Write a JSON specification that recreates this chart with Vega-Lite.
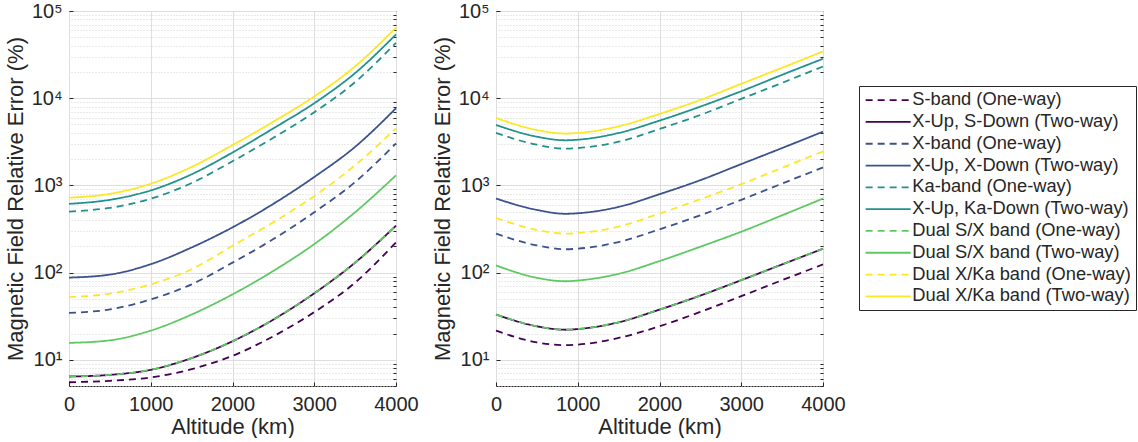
{
  "$schema": "https://vega.github.io/schema/vega-lite/v6.json",
  "padding": {"left": 3, "top": 0, "right": 0, "bottom": 0},
  "background": "white",
  "config": {
    "font": "Liberation Sans",
    "view": {"stroke": "#262626", "strokeWidth": 1},
    "axis": {"labelColor": "#262626", "titleColor": "#262626", "titleFontWeight": "normal", "tickColor": "#262626", "domain": false, "labelFont": "Liberation Sans", "titleFont": "Liberation Sans"},
    "legend": {"labelFont": "Liberation Sans"}
  },
  "datasets": {
    "left": [
      {"series": "S-band (One-way)", "alt": 0, "err": 5.52}, {"series": "S-band (One-way)", "alt": 500, "err": 5.73}, {"series": "S-band (One-way)", "alt": 1000, "err": 6.26}, {"series": "S-band (One-way)", "alt": 1500, "err": 7.8}, {"series": "S-band (One-way)", "alt": 2000, "err": 11.1}, {"series": "S-band (One-way)", "alt": 2500, "err": 18.6}, {"series": "S-band (One-way)", "alt": 3000, "err": 35.2}, {"series": "S-band (One-way)", "alt": 3500, "err": 76.7}, {"series": "S-band (One-way)", "alt": 4000, "err": 222},
      {"series": "X-Up, S-Down (Two-way)", "alt": 0, "err": 6.42}, {"series": "X-Up, S-Down (Two-way)", "alt": 500, "err": 6.71}, {"series": "X-Up, S-Down (Two-way)", "alt": 1000, "err": 7.67}, {"series": "X-Up, S-Down (Two-way)", "alt": 1500, "err": 10.45}, {"series": "X-Up, S-Down (Two-way)", "alt": 2000, "err": 16.3}, {"series": "X-Up, S-Down (Two-way)", "alt": 2500, "err": 28.9}, {"series": "X-Up, S-Down (Two-way)", "alt": 3000, "err": 57.8}, {"series": "X-Up, S-Down (Two-way)", "alt": 3500, "err": 130}, {"series": "X-Up, S-Down (Two-way)", "alt": 4000, "err": 345},
      {"series": "X-band (One-way)", "alt": 0, "err": 34.5}, {"series": "X-band (One-way)", "alt": 500, "err": 37.8}, {"series": "X-band (One-way)", "alt": 1000, "err": 49.2}, {"series": "X-band (One-way)", "alt": 1500, "err": 73.3}, {"series": "X-band (One-way)", "alt": 2000, "err": 130}, {"series": "X-band (One-way)", "alt": 2500, "err": 242}, {"series": "X-band (One-way)", "alt": 3000, "err": 492}, {"series": "X-band (One-way)", "alt": 3500, "err": 1092}, {"series": "X-band (One-way)", "alt": 4000, "err": 3027},
      {"series": "X-Up, X-Down (Two-way)", "alt": 0, "err": 87.5}, {"series": "X-Up, X-Down (Two-way)", "alt": 500, "err": 94.8}, {"series": "X-Up, X-Down (Two-way)", "alt": 1000, "err": 124.8}, {"series": "X-Up, X-Down (Two-way)", "alt": 1500, "err": 194}, {"series": "X-Up, X-Down (Two-way)", "alt": 2000, "err": 330}, {"series": "X-Up, X-Down (Two-way)", "alt": 2500, "err": 614}, {"series": "X-Up, X-Down (Two-way)", "alt": 3000, "err": 1248}, {"series": "X-Up, X-Down (Two-way)", "alt": 3500, "err": 2768}, {"series": "X-Up, X-Down (Two-way)", "alt": 4000, "err": 7670},
      {"series": "Ka-band (One-way)", "alt": 0, "err": 501}, {"series": "Ka-band (One-way)", "alt": 500, "err": 552}, {"series": "Ka-band (One-way)", "alt": 1000, "err": 702}, {"series": "Ka-band (One-way)", "alt": 1500, "err": 1064}, {"series": "Ka-band (One-way)", "alt": 2000, "err": 1892}, {"series": "Ka-band (One-way)", "alt": 2500, "err": 3516}, {"series": "Ka-band (One-way)", "alt": 3000, "err": 6890}, {"series": "Ka-band (One-way)", "alt": 3500, "err": 15300}, {"series": "Ka-band (One-way)", "alt": 4000, "err": 43150},
      {"series": "X-Up, Ka-Down (Two-way)", "alt": 0, "err": 614}, {"series": "X-Up, Ka-Down (Two-way)", "alt": 500, "err": 683}, {"series": "X-Up, Ka-Down (Two-way)", "alt": 1000, "err": 875}, {"series": "X-Up, Ka-Down (Two-way)", "alt": 1500, "err": 1340}, {"series": "X-Up, Ka-Down (Two-way)", "alt": 2000, "err": 2382}, {"series": "X-Up, Ka-Down (Two-way)", "alt": 2500, "err": 4508}, {"series": "X-Up, Ka-Down (Two-way)", "alt": 3000, "err": 8753}, {"series": "X-Up, Ka-Down (Two-way)", "alt": 3500, "err": 19420}, {"series": "X-Up, Ka-Down (Two-way)", "alt": 4000, "err": 53800},
      {"series": "Dual S/X band (One-way)", "alt": 0, "err": 6.42}, {"series": "Dual S/X band (One-way)", "alt": 500, "err": 6.71}, {"series": "Dual S/X band (One-way)", "alt": 1000, "err": 7.67}, {"series": "Dual S/X band (One-way)", "alt": 1500, "err": 10.45}, {"series": "Dual S/X band (One-way)", "alt": 2000, "err": 16.3}, {"series": "Dual S/X band (One-way)", "alt": 2500, "err": 28.9}, {"series": "Dual S/X band (One-way)", "alt": 3000, "err": 57.8}, {"series": "Dual S/X band (One-way)", "alt": 3500, "err": 130}, {"series": "Dual S/X band (One-way)", "alt": 4000, "err": 345},
      {"series": "Dual S/X band (Two-way)", "alt": 0, "err": 15.6}, {"series": "Dual S/X band (Two-way)", "alt": 500, "err": 16.7}, {"series": "Dual S/X band (Two-way)", "alt": 1000, "err": 21.6}, {"series": "Dual S/X band (Two-way)", "alt": 1500, "err": 33.0}, {"series": "Dual S/X band (Two-way)", "alt": 2000, "err": 56.2}, {"series": "Dual S/X band (Two-way)", "alt": 2500, "err": 104.5}, {"series": "Dual S/X band (Two-way)", "alt": 3000, "err": 212}, {"series": "Dual S/X band (Two-way)", "alt": 3500, "err": 492}, {"series": "Dual S/X band (Two-way)", "alt": 4000, "err": 1304},
      {"series": "Dual X/Ka band (One-way)", "alt": 0, "err": 52.4}, {"series": "Dual X/Ka band (One-way)", "alt": 500, "err": 57.2}, {"series": "Dual X/Ka band (One-way)", "alt": 1000, "err": 73.3}, {"series": "Dual X/Ka band (One-way)", "alt": 1500, "err": 109}, {"series": "Dual X/Ka band (One-way)", "alt": 2000, "err": 203}, {"series": "Dual X/Ka band (One-way)", "alt": 2500, "err": 378}, {"series": "Dual X/Ka band (One-way)", "alt": 3000, "err": 753}, {"series": "Dual X/Ka band (One-way)", "alt": 3500, "err": 1702}, {"series": "Dual X/Ka band (One-way)", "alt": 4000, "err": 4508},
      {"series": "Dual X/Ka band (Two-way)", "alt": 0, "err": 721}, {"series": "Dual X/Ka band (Two-way)", "alt": 500, "err": 801}, {"series": "Dual X/Ka band (Two-way)", "alt": 1000, "err": 1045}, {"series": "Dual X/Ka band (Two-way)", "alt": 1500, "err": 1628}, {"series": "Dual X/Ka band (Two-way)", "alt": 2000, "err": 2895}, {"series": "Dual X/Ka band (Two-way)", "alt": 2500, "err": 5377}, {"series": "Dual X/Ka band (Two-way)", "alt": 3000, "err": 10450}, {"series": "Dual X/Ka band (Two-way)", "alt": 3500, "err": 23190}, {"series": "Dual X/Ka band (Two-way)", "alt": 4000, "err": 64240}
    ],
    "right": [
      {"series": "S-band (One-way)", "alt": 0, "err": 21.6}, {"series": "S-band (One-way)", "alt": 500, "err": 15.8}, {"series": "S-band (One-way)", "alt": 850, "err": 14.7}, {"series": "S-band (One-way)", "alt": 1000, "err": 14.9}, {"series": "S-band (One-way)", "alt": 1500, "err": 17.8}, {"series": "S-band (One-way)", "alt": 2000, "err": 24.2}, {"series": "S-band (One-way)", "alt": 2500, "err": 35.4}, {"series": "S-band (One-way)", "alt": 3000, "err": 53.6}, {"series": "S-band (One-way)", "alt": 3500, "err": 81.8}, {"series": "S-band (One-way)", "alt": 4000, "err": 124},
      {"series": "X-Up, S-Down (Two-way)", "alt": 0, "err": 33.0}, {"series": "X-Up, S-Down (Two-way)", "alt": 500, "err": 24.2}, {"series": "X-Up, S-Down (Two-way)", "alt": 850, "err": 22.1}, {"series": "X-Up, S-Down (Two-way)", "alt": 1000, "err": 22.5}, {"series": "X-Up, S-Down (Two-way)", "alt": 1500, "err": 26.9}, {"series": "X-Up, S-Down (Two-way)", "alt": 2000, "err": 37.6}, {"series": "X-Up, S-Down (Two-way)", "alt": 2500, "err": 54.5}, {"series": "X-Up, S-Down (Two-way)", "alt": 3000, "err": 81.8}, {"series": "X-Up, S-Down (Two-way)", "alt": 3500, "err": 124}, {"series": "X-Up, S-Down (Two-way)", "alt": 4000, "err": 187.6},
      {"series": "X-band (One-way)", "alt": 0, "err": 279}, {"series": "X-band (One-way)", "alt": 500, "err": 205}, {"series": "X-band (One-way)", "alt": 850, "err": 185}, {"series": "X-band (One-way)", "alt": 1000, "err": 188}, {"series": "X-band (One-way)", "alt": 1500, "err": 224}, {"series": "X-band (One-way)", "alt": 2000, "err": 313}, {"series": "X-band (One-way)", "alt": 2500, "err": 454}, {"series": "X-band (One-way)", "alt": 3000, "err": 682}, {"series": "X-band (One-way)", "alt": 3500, "err": 1050}, {"series": "X-band (One-way)", "alt": 4000, "err": 1606},
      {"series": "X-Up, X-Down (Two-way)", "alt": 0, "err": 706}, {"series": "X-Up, X-Down (Two-way)", "alt": 500, "err": 523}, {"series": "X-Up, X-Down (Two-way)", "alt": 850, "err": 472}, {"series": "X-Up, X-Down (Two-way)", "alt": 1000, "err": 479}, {"series": "X-Up, X-Down (Two-way)", "alt": 1500, "err": 566}, {"series": "X-Up, X-Down (Two-way)", "alt": 2000, "err": 792}, {"series": "X-Up, X-Down (Two-way)", "alt": 2500, "err": 1148}, {"series": "X-Up, X-Down (Two-way)", "alt": 3000, "err": 1754}, {"series": "X-Up, X-Down (Two-way)", "alt": 3500, "err": 2680}, {"series": "X-Up, X-Down (Two-way)", "alt": 4000, "err": 4130},
      {"series": "Ka-band (One-way)", "alt": 0, "err": 3990}, {"series": "Ka-band (One-way)", "alt": 500, "err": 2926}, {"series": "Ka-band (One-way)", "alt": 850, "err": 2640}, {"series": "Ka-band (One-way)", "alt": 1000, "err": 2680}, {"series": "Ka-band (One-way)", "alt": 1500, "err": 3170}, {"series": "Ka-band (One-way)", "alt": 2000, "err": 4435}, {"series": "Ka-band (One-way)", "alt": 2500, "err": 6427}, {"series": "Ka-band (One-way)", "alt": 3000, "err": 9817}, {"series": "Ka-band (One-way)", "alt": 3500, "err": 15000}, {"series": "Ka-band (One-way)", "alt": 4000, "err": 23120},
      {"series": "X-Up, Ka-Down (Two-way)", "alt": 0, "err": 4930}, {"series": "X-Up, Ka-Down (Two-way)", "alt": 500, "err": 3617}, {"series": "X-Up, Ka-Down (Two-way)", "alt": 850, "err": 3290}, {"series": "X-Up, Ka-Down (Two-way)", "alt": 1000, "err": 3342}, {"series": "X-Up, Ka-Down (Two-way)", "alt": 1500, "err": 3990}, {"series": "X-Up, Ka-Down (Two-way)", "alt": 2000, "err": 5530}, {"series": "X-Up, Ka-Down (Two-way)", "alt": 2500, "err": 8010}, {"series": "X-Up, Ka-Down (Two-way)", "alt": 3000, "err": 12020}, {"series": "X-Up, Ka-Down (Two-way)", "alt": 3500, "err": 18540}, {"series": "X-Up, Ka-Down (Two-way)", "alt": 4000, "err": 28330},
      {"series": "Dual S/X band (One-way)", "alt": 0, "err": 33.0}, {"series": "Dual S/X band (One-way)", "alt": 500, "err": 24.2}, {"series": "Dual S/X band (One-way)", "alt": 850, "err": 22.1}, {"series": "Dual S/X band (One-way)", "alt": 1000, "err": 22.5}, {"series": "Dual S/X band (One-way)", "alt": 1500, "err": 26.9}, {"series": "Dual S/X band (One-way)", "alt": 2000, "err": 37.6}, {"series": "Dual S/X band (One-way)", "alt": 2500, "err": 54.5}, {"series": "Dual S/X band (One-way)", "alt": 3000, "err": 81.8}, {"series": "Dual S/X band (One-way)", "alt": 3500, "err": 124}, {"series": "Dual S/X band (One-way)", "alt": 4000, "err": 187.6},
      {"series": "Dual S/X band (Two-way)", "alt": 0, "err": 120.7}, {"series": "Dual S/X band (Two-way)", "alt": 500, "err": 87.1}, {"series": "Dual S/X band (Two-way)", "alt": 850, "err": 79.5}, {"series": "Dual S/X band (Two-way)", "alt": 1000, "err": 81.1}, {"series": "Dual S/X band (Two-way)", "alt": 1500, "err": 96.8}, {"series": "Dual S/X band (Two-way)", "alt": 2000, "err": 135.5}, {"series": "Dual S/X band (Two-way)", "alt": 2500, "err": 198}, {"series": "Dual S/X band (Two-way)", "alt": 3000, "err": 294}, {"series": "Dual S/X band (Two-way)", "alt": 3500, "err": 454}, {"series": "Dual S/X band (Two-way)", "alt": 4000, "err": 706},
      {"series": "Dual X/Ka band (One-way)", "alt": 0, "err": 423}, {"series": "Dual X/Ka band (One-way)", "alt": 500, "err": 308}, {"series": "Dual X/Ka band (One-way)", "alt": 850, "err": 280}, {"series": "Dual X/Ka band (One-way)", "alt": 1000, "err": 284}, {"series": "Dual X/Ka band (One-way)", "alt": 1500, "err": 336}, {"series": "Dual X/Ka band (One-way)", "alt": 2000, "err": 475}, {"series": "Dual X/Ka band (One-way)", "alt": 2500, "err": 694}, {"series": "Dual X/Ka band (One-way)", "alt": 3000, "err": 1032}, {"series": "Dual X/Ka band (One-way)", "alt": 3500, "err": 1592}, {"series": "Dual X/Ka band (One-way)", "alt": 4000, "err": 2454},
      {"series": "Dual X/Ka band (Two-way)", "alt": 0, "err": 5930}, {"series": "Dual X/Ka band (Two-way)", "alt": 500, "err": 4316}, {"series": "Dual X/Ka band (Two-way)", "alt": 850, "err": 3930}, {"series": "Dual X/Ka band (Two-way)", "alt": 1000, "err": 3990}, {"series": "Dual X/Ka band (Two-way)", "alt": 1500, "err": 4756}, {"series": "Dual X/Ka band (Two-way)", "alt": 2000, "err": 6596}, {"series": "Dual X/Ka band (Two-way)", "alt": 2500, "err": 9550}, {"series": "Dual X/Ka band (Two-way)", "alt": 3000, "err": 14620}, {"series": "Dual X/Ka band (Two-way)", "alt": 3500, "err": 22330}, {"series": "Dual X/Ka band (Two-way)", "alt": 4000, "err": 34420}
    ]
  },
  "spacing": 100,
  "bounds": "flush",
  "resolve": {"scale": {"color": "independent", "strokeDash": "independent", "x": "independent", "y": "independent"}},
  "hconcat": [
    {
      "width": 327, "height": 375,
      "data": {"name": "left"},
      "resolve": {"axis": {"y": "independent"}},
      "layer": [
        {
          "mark": {"type": "point", "opacity": 0},
          "encoding": {
            "y": {"field": "err", "type": "quantitative", "scale": {"type": "log", "domain": [5, 100000]},
              "axis": {"orient": "right", "values": [5,6,7,8,9,20,30,40,50,60,70,80,90,200,300,400,500,600,700,800,900,2000,3000,4000,5000,6000,7000,8000,9000,20000,30000,40000,50000,60000,70000,80000,90000], "labels": false, "ticks": true, "tickSize": -3, "grid": true, "gridDash": [1, 2], "gridColor": "#d4d4d4", "title": null}}
          }
        },
        {
          "mark": {"type": "line", "strokeWidth": 1.8, "interpolate": "monotone"},
          "encoding": {
            "x": {"field": "alt", "type": "quantitative", "scale": {"domain": [0, 4000]},
              "axis": {"values": [0, 1000, 2000, 3000, 4000], "format": "d", "title": "Altitude (km)", "grid": true, "gridColor": "#dedede", "labelFontSize": 20, "titleFontSize": 22, "tickSize": -4, "labelPadding": 12, "titlePadding": 2, "labelFlush": false}},
            "y": {"field": "err", "type": "quantitative", "scale": {"type": "log", "domain": [5, 100000]},
              "axis": {"values": [10, 100, 1000, 10000, 100000], "labelExpr": "datum.value == 10 ? '10¹' : datum.value == 100 ? '10²' : datum.value == 1000 ? '10³' : datum.value == 10000 ? '10⁴' : '10⁵'", "title": "Magnetic Field Relative Error (%)", "grid": true, "gridColor": "#dedede", "labelFontSize": 20, "titleFontSize": 22, "tickSize": -4, "labelPadding": 11, "titlePadding": 4}},
            "color": {"field": "series", "type": "nominal",
              "scale": {"domain": ["S-band (One-way)", "X-Up, S-Down (Two-way)", "X-band (One-way)", "X-Up, X-Down (Two-way)", "Ka-band (One-way)", "X-Up, Ka-Down (Two-way)", "Dual S/X band (One-way)", "Dual S/X band (Two-way)", "Dual X/Ka band (One-way)", "Dual X/Ka band (Two-way)"],
                "range": ["#440154", "#440154", "#3b528b", "#3b528b", "#21918c", "#21918c", "#5ec962", "#5ec962", "#fde725", "#fde725"]},
              "legend": null},
            "strokeDash": {"field": "series", "type": "nominal",
              "scale": {"domain": ["S-band (One-way)", "X-Up, S-Down (Two-way)", "X-band (One-way)", "X-Up, X-Down (Two-way)", "Ka-band (One-way)", "X-Up, Ka-Down (Two-way)", "Dual S/X band (One-way)", "Dual S/X band (Two-way)", "Dual X/Ka band (One-way)", "Dual X/Ka band (Two-way)"],
                "range": [[7, 5], [1, 0], [7, 5], [1, 0], [7, 5], [1, 0], [7, 5], [1, 0], [7, 5], [1, 0]]},
              "legend": null}
          }
        }
      ]
    },
    {
      "width": 327, "height": 375,
      "data": {"name": "right"},
      "resolve": {"axis": {"y": "independent"}},
      "layer": [
        {
          "mark": {"type": "point", "opacity": 0},
          "encoding": {
            "y": {"field": "err", "type": "quantitative", "scale": {"type": "log", "domain": [5, 100000]},
              "axis": {"orient": "right", "values": [5,6,7,8,9,20,30,40,50,60,70,80,90,200,300,400,500,600,700,800,900,2000,3000,4000,5000,6000,7000,8000,9000,20000,30000,40000,50000,60000,70000,80000,90000], "labels": false, "ticks": true, "tickSize": -3, "grid": true, "gridDash": [1, 2], "gridColor": "#d4d4d4", "title": null}}
          }
        },
        {
          "mark": {"type": "line", "strokeWidth": 1.8, "interpolate": "monotone"},
          "encoding": {
            "x": {"field": "alt", "type": "quantitative", "scale": {"domain": [0, 4000]},
              "axis": {"values": [0, 1000, 2000, 3000, 4000], "format": "d", "title": "Altitude (km)", "grid": true, "gridColor": "#dedede", "labelFontSize": 20, "titleFontSize": 22, "tickSize": -4, "labelPadding": 12, "titlePadding": 2, "labelFlush": false}},
            "y": {"field": "err", "type": "quantitative", "scale": {"type": "log", "domain": [5, 100000]},
              "axis": {"values": [10, 100, 1000, 10000, 100000], "labelExpr": "datum.value == 10 ? '10¹' : datum.value == 100 ? '10²' : datum.value == 1000 ? '10³' : datum.value == 10000 ? '10⁴' : '10⁵'", "title": "Magnetic Field Relative Error (%)", "grid": true, "gridColor": "#dedede", "labelFontSize": 20, "titleFontSize": 22, "tickSize": -4, "labelPadding": 11, "titlePadding": 4}},
            "color": {"field": "series", "type": "nominal",
              "scale": {"domain": ["S-band (One-way)", "X-Up, S-Down (Two-way)", "X-band (One-way)", "X-Up, X-Down (Two-way)", "Ka-band (One-way)", "X-Up, Ka-Down (Two-way)", "Dual S/X band (One-way)", "Dual S/X band (Two-way)", "Dual X/Ka band (One-way)", "Dual X/Ka band (Two-way)"],
                "range": ["#440154", "#440154", "#3b528b", "#3b528b", "#21918c", "#21918c", "#5ec962", "#5ec962", "#fde725", "#fde725"]},
              "legend": {"orient": "none", "legendX": 363, "legendY": 75, "title": null, "symbolType": "M-1,0H5", "symbolSize": 225, "symbolStrokeWidth": 1.8, "labelFontSize": 18.3, "labelOffset": 30, "rowPadding": 2.8, "padding": 5, "strokeColor": "#262626", "fillColor": "white", "labelColor": "#262626", "labelLimit": 400}},
            "strokeDash": {"field": "series", "type": "nominal",
              "scale": {"domain": ["S-band (One-way)", "X-Up, S-Down (Two-way)", "X-band (One-way)", "X-Up, X-Down (Two-way)", "Ka-band (One-way)", "X-Up, Ka-Down (Two-way)", "Dual S/X band (One-way)", "Dual S/X band (Two-way)", "Dual X/Ka band (One-way)", "Dual X/Ka band (Two-way)"],
                "range": [[7, 5], [1, 0], [7, 5], [1, 0], [7, 5], [1, 0], [7, 5], [1, 0], [7, 5], [1, 0]]},
              "legend": {"orient": "none", "legendX": 363, "legendY": 75, "title": null, "symbolType": "M-1,0H5", "symbolSize": 225, "symbolStrokeWidth": 1.8, "labelFontSize": 18.3, "labelOffset": 30, "rowPadding": 2.8, "padding": 5, "strokeColor": "#262626", "fillColor": "white", "labelColor": "#262626", "labelLimit": 400}}
          }
        }
      ]
    }
  ]
}
